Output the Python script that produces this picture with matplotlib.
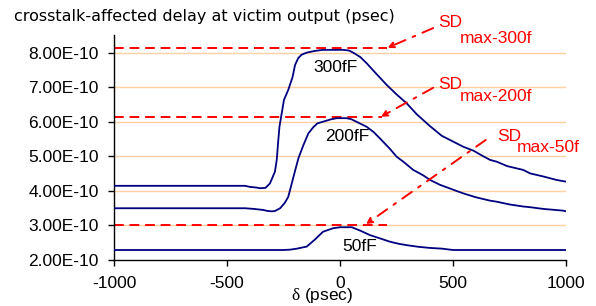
import matplotlib
matplotlib.use("Agg")
import matplotlib.pyplot as plt
from matplotlib.ticker import FuncFormatter, MultipleLocator

plt.rcParams['font.family'] = ['Liberation Sans', 'DejaVu Sans']
plt.rcParams['axes.unicode_minus'] = False
plt.rcParams['mathtext.fontset'] = 'custom'
plt.rcParams['mathtext.rm'] = 'Liberation Serif'

# crosstalk-affected delay (units of 1e-10 s) vs skew delta (psec)
x_300 = [-1000, -420, -400, -370, -354, -330, -310, -288, -280, -273, -268, -258, -248,
         -229, -210, -199, -185, -170, -147, -110, -75, -30, 13, 40, 58, 90, 118, 160,
         207, 250, 295, 340, 398, 450, 516, 546, 590, 630, 664, 693, 740, 811, 841, 900,
         958, 1000]
y_300 = [4.15, 4.15, 4.12, 4.10, 4.08, 4.09, 4.22, 4.56, 4.90, 5.48, 5.86, 6.25, 6.64,
         6.93, 7.30, 7.65, 7.85, 7.95, 8.01, 8.06, 8.09, 8.09, 8.09, 8.07, 8.01, 7.88, 7.70,
         7.40, 7.07, 6.80, 6.54, 6.22, 5.88, 5.60, 5.38, 5.28, 5.17, 5.02, 4.90, 4.85, 4.72,
         4.61, 4.51, 4.42, 4.32, 4.27]

x_200 = [-1000, -420, -380, -340, -319, -300, -288, -265, -245, -229, -206, -184, -162,
         -140, -118, -100, -74, -44, -15, 29, 50, 81, 118, 150, 177, 221, 251, 280, 324,
         369, 398, 442, 516, 546, 600, 664, 693, 750, 811, 841, 900, 988, 1000]
y_200 = [3.50, 3.50, 3.48, 3.45, 3.42, 3.41, 3.42, 3.50, 3.65, 3.83, 4.41, 4.95, 5.33,
         5.67, 5.85, 5.96, 6.01, 6.07, 6.11, 6.11, 6.08, 5.98, 5.86, 5.70, 5.52, 5.22,
         4.99, 4.85, 4.61, 4.45, 4.32, 4.18, 4.00, 3.93, 3.82, 3.72, 3.69, 3.61, 3.55,
         3.53, 3.48, 3.43, 3.41]

x_50 = [-1000, -250, -221, -190, -147, -110, -75, -31, 0, 52, 90, 133, 180, 221, 260,
        295, 350, 398, 450, 500, 1000]
y_50 = [2.29, 2.29, 2.30, 2.33, 2.39, 2.60, 2.82, 2.92, 2.95, 2.95, 2.85, 2.72, 2.62,
        2.53, 2.47, 2.43, 2.38, 2.35, 2.33, 2.29, 2.29]

curve_labels = ['300fF', '200fF', '50fF']
sd_max = [8.15, 6.15, 3.00]          # max delay levels (1e-10 s)
sd_end = [208, 184, 208]             # where the dashed max lines stop (psec)
sd_names = ['max-300f', 'max-200f', 'max-50f']
y_ticks = [2, 3, 4, 5, 6, 7, 8]

navy = '#000080'
fig = plt.figure(figsize=(5.96, 3.06), dpi=100)
ax = fig.add_axes([0.1913, 0.1503, 0.7584, 0.7353])

for yv in y_ticks[1:]:
    ax.axhline(yv * 1e-10, color='#FFD0A0', lw=1.0, zorder=0)

for xs, ys in [(x_300, y_300), (x_200, y_200), (x_50, y_50)]:
    ax.plot(xs, [v * 1e-10 for v in ys], color=navy, lw=1.3, zorder=3)

for lvl, xe in zip(sd_max, sd_end):
    ax.plot([-1000, xe], [lvl * 1e-10, lvl * 1e-10], color='red', lw=1.4,
            linestyle=(0, (5, 3)), zorder=2, clip_on=False)

# curve labels
ax.text(-118, 7.58e-10, curve_labels[0], fontsize=12.5, va='center', ha='left')
ax.text(-66, 5.59e-10, curve_labels[1], fontsize=12.5, va='center', ha='left')
ax.text(9, 2.38e-10, curve_labels[2], fontsize=12.5, va='center', ha='left')

# SD max annotations
arrow_from = [(412, 8.72e-10), (412, 6.99e-10), (645, 5.48e-10)]
arrow_to = [(sd_end[0] + 2, sd_max[0] * 1e-10), (sd_end[1] - 3, sd_max[1] * 1e-10),
            (115, sd_max[2] * 1e-10 + 0.04e-10)]
sd_pos = [(434, 8.87e-10), (434, 7.10e-10), (695, 5.58e-10)]
sub_pos = [(532, 8.41e-10), (532, 6.75e-10), (783, 5.25e-10)]
for a0, a1, p, s, name in zip(arrow_from, arrow_to, sd_pos, sub_pos, sd_names):
    ax.annotate('', xy=a1, xytext=a0, annotation_clip=False,
                arrowprops=dict(arrowstyle='-|>', color='red', lw=1.4,
                                linestyle=(0, (6, 4, 1.5, 4)), mutation_scale=9,
                                shrinkA=0, shrinkB=0))
    ax.text(p[0], p[1], 'SD', color='red', fontsize=12.5, va='center', ha='left',
            clip_on=False)
    ax.text(s[0], s[1], name, color='red', fontsize=12.5, va='center', ha='left',
            clip_on=False)

ax.set_xlim(-1000, 1000)
ax.set_ylim(2e-10, 8.52e-10)
ax.xaxis.set_major_locator(MultipleLocator(500))
ax.set_yticks([v * 1e-10 for v in y_ticks])
ax.yaxis.set_major_formatter(FuncFormatter(lambda v, p: format(v, '.2E')))
ax.tick_params(direction='out', length=4, width=1, labelsize=12.5)
ax.tick_params(axis='y', pad=7)
ax.tick_params(axis='x', pad=7.5)
for side in ['top', 'right']:
    ax.spines[side].set_visible(False)
ax.spines['left'].set_linewidth(1.0)
ax.spines['bottom'].set_linewidth(1.0)

ax.set_xlabel(r'$\mathrm{\delta}$ (psec)', fontsize=12.5, labelpad=-3.5, x=0.461)
fig.text(0.023, 0.945, 'crosstalk-affected delay at victim output (psec)',
         fontsize=11.5, va='center', ha='left', family='DejaVu Sans')

fig.savefig('out.png', dpi=100)
